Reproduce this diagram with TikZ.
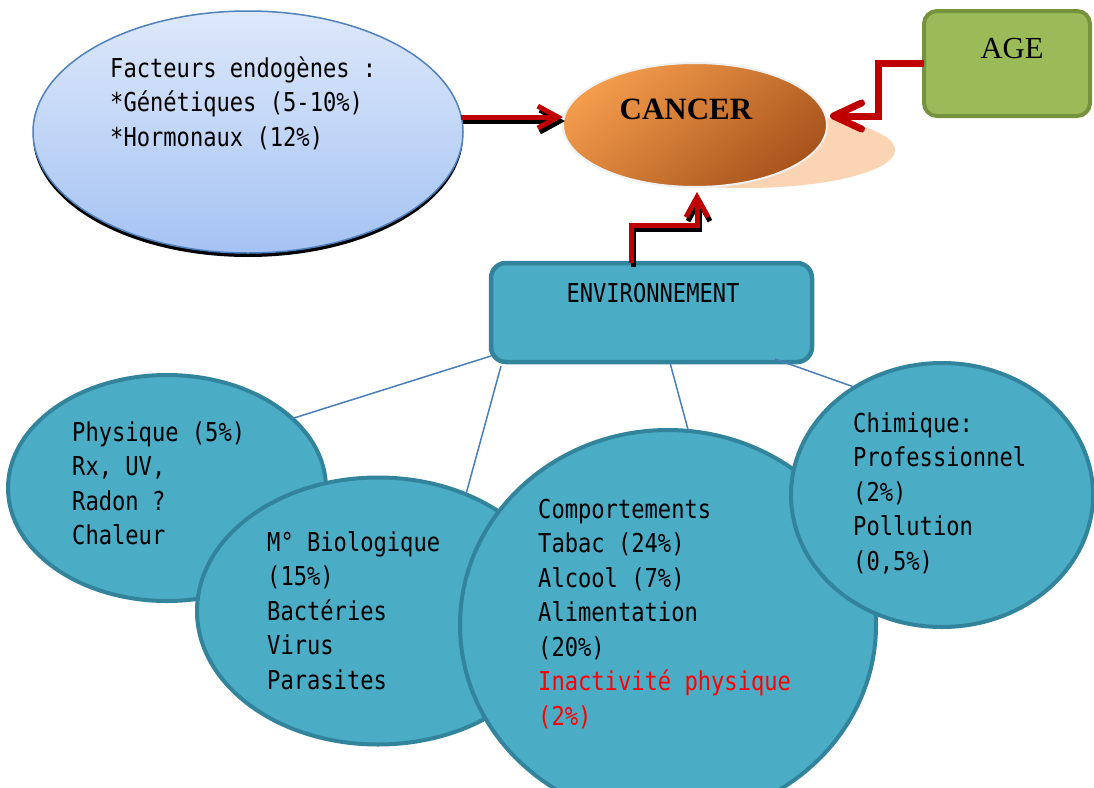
\documentclass[tikz,border=0pt]{standalone}
\usepackage{fontspec}
\usetikzlibrary{shapes.geometric,arrows.meta,calc}
\newfontfamily\gothic[FakeStretch=0.85]{DejaVu Sans Mono}
\newfontfamily\serifx{Liberation Serif}
\definecolor{endotop}{HTML}{DDE8FA}
\definecolor{endobot}{HTML}{A5C3F3}
\definecolor{endoline}{HTML}{4F81BD}
\definecolor{canlight}{HTML}{F49C4C}
\definecolor{candark}{HTML}{A8541C}
\definecolor{peach}{HTML}{FBD4B4}
\definecolor{agefill}{HTML}{9BBB59}
\definecolor{ageline}{HTML}{76923C}
\definecolor{tealfill}{HTML}{4BACC6}
\definecolor{tealline}{HTML}{31849B}
\definecolor{arrred}{HTML}{C00000}
\definecolor{connblue}{HTML}{4A7EBB}
\newcommand\ml[1]{\vtop{\halign{##\hfil\cr#1\crcr}}}
\begin{document}
\begin{tikzpicture}[x=1pt,y=-1pt,
  endostyle/.style={ellipse, draw=endoline, line width=1.5, top color=endotop, bottom color=endobot,
    minimum width=430, minimum height=242, inner sep=0, outer sep=0},
  cancerstyle/.style={ellipse, draw=white!94!black, line width=2, top color=canlight, bottom color=candark,
    shading angle=40, minimum width=264, minimum height=124, inner sep=0, outer sep=0},
  agestyle/.style={rectangle, rounded corners=13, draw=ageline, line width=4, fill=agefill,
    minimum width=166, minimum height=105, inner sep=0, outer sep=0},
  envstyle/.style={rectangle, rounded corners=15, draw=tealline, line width=4.5, fill=tealfill,
    minimum width=321, minimum height=99, inner sep=0, outer sep=0},
  blob/.style={ellipse, draw=tealline, line width=4, fill=tealfill, inner sep=0, outer sep=0},
  txt/.style={anchor=base west, inner sep=0, font=\gothic\fontsize{26}{34.5}\selectfont},
  conn/.style={draw=connblue, line width=1.5},
  redarrow/.style={draw=arrred, line width=5, -{Straight Barb[length=20, width=22]}},
  shadowarrow/.style={draw=black, line width=5, -{Straight Barb[length=20, width=22]},
    transform canvas={shift={(2,4)}}}
]
\useasboundingbox[fill=white] (0,0) rectangle (1094,787);

% endogenous factors
\fill[black] (248,136) ellipse [x radius=215, y radius=121];
\node[endostyle] (endo) at (248,132) {};

% cancer with its shadow
\fill[peach] (745,150) ellipse [x radius=150, y radius=38];
\node[cancerstyle] (cancer) at (695,125) {};
\node[anchor=base, inner sep=0, font=\serifx\bfseries\fontsize{31}{31}\selectfont] (cancertxt) at (686,119) {CANCER};

% age
\node[agestyle] (age) at (1007,63.5) {};
\node[anchor=base, inner sep=0, font=\serifx\fontsize{30.6}{31}\selectfont] (agetxt) at (1012,58) {AGE};

% environment
\node[envstyle] (env) at (651.5,312.5) {};
\node[anchor=base, inner sep=0, font=\gothic\fontsize{26}{34.5}\selectfont] (envtxt) at (653,302) {ENVIRONNEMENT};

% bottom ellipses
\node[blob, minimum width=318, minimum height=226] (phys) at (167,488) {};
\node[blob, minimum width=362, minimum height=267] (bio) at (378,611) {};
\node[blob, minimum width=416, minimum height=390] (comp) at (668,625) {};
\node[blob, minimum width=302, minimum height=264] (chim) at (942,495) {};

% texts
\node[txt] (endotxt) at (110,77) {\ml{Facteurs endogènes :\cr*Génétiques (5-10\%)\cr*Hormonaux (12\%)}};
\node[txt] (phystxt) at (72,441) {\ml{Physique (5\%)\cr Rx, UV,\cr Radon ?\cr Chaleur}};
\node[txt] (biotxt) at (267,551) {\ml{M° Biologique\cr(15\%)\cr Bactéries\cr Virus\cr Parasites}};
\node[txt] (comptxt) at (538,518) {\ml{Comportements\cr Tabac (24\%)\cr Alcool (7\%)\cr Alimentation\cr(20\%)\cr{\color{red}Inactivité physique}\cr{\color{red}(2\%)}}};
\node[txt] (chimtxt) at (853,432) {\ml{Chimique:\cr Professionnel\cr(2\%)\cr Pollution\cr(0,5\%)}};

% connectors
\draw[conn] ($(env.south west)+(0,-6)$) -- (phys.29);
\draw[conn] ($(env.south west)+(10,4)$) -- (bio.53);
\draw[conn] ($(env.south)+(18,-1)$) -- (comp.84);
\draw[conn] ($(env.south east)+(-37,-3)$) -- (chim.129);

% red arrows
\draw[shadowarrow] (endo.4) -- (endo.4 -| cancer.west);
\draw[redarrow] (endo.4) -- (endo.4 -| cancer.west);
\draw[shadowarrow] ($(env.north)+(-20,0)$) |- ($(cancer.south)+(2,38)$) -- ($(cancer.south)+(2,5)$);
\draw[redarrow] ($(env.north)+(-20,0)$) |- ($(cancer.south)+(2,38)$) -- ($(cancer.south)+(2,5)$);
\draw[redarrow, line width=7, -{Straight Barb[length=28, width=26, round]}] (age.west) -- ++(-46,0) |- ($(cancer.east)+(3,-9)$);
\end{tikzpicture}
\end{document}
